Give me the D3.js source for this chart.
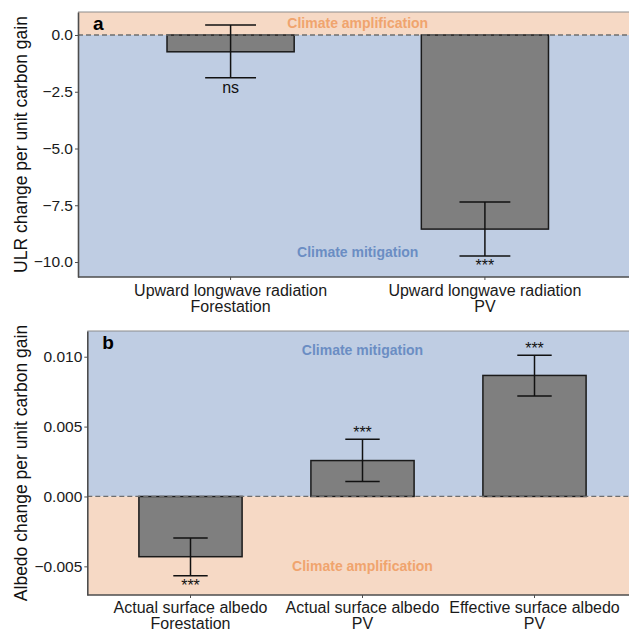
<!DOCTYPE html>
<html>
<head>
<meta charset="utf-8">
<script src="https://cdn.jsdelivr.net/npm/d3@7"></script>
<style>
  body { margin: 0; background: #fff; }
  svg { display: block; font-family: "Liberation Sans", Arial, sans-serif; }
</style>
</head>
<body>
<div id="chart"></div>
<script>
// ---- data ----
var catsA = [["Upward longwave radiation", "Forestation"], ["Upward longwave radiation", "PV"]];
var valsA = [-0.74, -8.55];
var errLoA = [-1.88, -9.74];
var errHiA = [0.44, -7.36];
var sigA = ["ns", "***"];
var ticksA = [0.0, -2.5, -5.0, -7.5, -10.0];

var catsB = [["Actual surface albedo", "Forestation"], ["Actual surface albedo", "PV"], ["Effective surface albedo", "PV"]];
var valsB = [-0.00431, 0.00257, 0.00866];
var errLoB = [-0.00567, 0.00107, 0.00719];
var errHiB = [-0.00298, 0.00409, 0.01011];
var sigB = ["***", "***", "***"];
var ticksB = [0.010, 0.005, 0.000, -0.005];

var W = 629, H = 631;
var ORANGE_BG = "#f6d9c5", BLUE_BG = "#bfcde3";
var ORANGE_TXT = "#f0a46e", BLUE_TXT = "#6b8dc3";

var svg = d3.select("#chart").append("svg")
    .attr("width", W).attr("height", H);

function drawPanel(opt) {
    var g = svg.append("g");
    // ggplot style discrete expansion: 0.6 of a step on each side
    var step = (opt.right - opt.left) / (opt.cats.length + 0.2);
    var x = d3.scalePoint()
        .domain(d3.range(opt.cats.length))
        .range([opt.left + step * 0.6, opt.right - step * 0.6]);
    var xc = function(i) { return x(i); };

    var y = d3.scaleLinear().domain(opt.domain).range([opt.bottom, opt.top]);

    // background zones
    g.append("rect")
        .attr("x", opt.left).attr("y", opt.top)
        .attr("width", opt.right - opt.left).attr("height", y(0) - opt.top)
        .attr("fill", opt.upperFill);
    g.append("rect")
        .attr("x", opt.left).attr("y", y(0))
        .attr("width", opt.right - opt.left).attr("height", opt.bottom - y(0))
        .attr("fill", opt.lowerFill);

    // zone labels
    opt.zoneLabels.forEach(function(z) {
        g.append("text")
            .attr("x", opt.left + step * z.xi)
            .attr("y", y(z.v))
            .attr("dy", "0.35em")
            .attr("text-anchor", "middle")
            .attr("font-size", 14).attr("font-weight", "bold")
            .attr("fill", z.color)
            .text(z.text);
    });

    var bw = step * opt.barWidth;
    // bars
    g.selectAll(".bar").data(opt.vals).enter().append("rect")
        .attr("x", function(d, i) { return xc(i) - bw / 2; })
        .attr("y", function(d) { return y(Math.max(0, d)); })
        .attr("width", bw)
        .attr("height", function(d) { return Math.abs(y(d) - y(0)); })
        .attr("fill", "#7f7f7f")
        .attr("stroke", "#1a1a1a").attr("stroke-width", 1.5);

    // zero line
    g.append("line")
        .attr("x1", opt.left).attr("x2", opt.right)
        .attr("y1", y(0)).attr("y2", y(0))
        .attr("stroke", "#6e6e6e").attr("stroke-width", 1.3)
        .attr("stroke-dasharray", "5,3");

    // error bars
    var cw = step * 0.2;
    opt.vals.forEach(function(d, i) {
        var cx = xc(i);
        g.append("line").attr("x1", cx).attr("x2", cx)
            .attr("y1", y(opt.lo[i])).attr("y2", y(opt.hi[i]))
            .attr("stroke", "#111").attr("stroke-width", 1.5);
        [opt.lo[i], opt.hi[i]].forEach(function(v) {
            g.append("line").attr("x1", cx - cw / 2).attr("x2", cx + cw / 2)
                .attr("y1", y(v)).attr("y2", y(v))
                .attr("stroke", "#111").attr("stroke-width", 1.5);
        });
        // significance
        var ty = d < 0 ? y(opt.lo[i]) + 15 : y(opt.hi[i]) - 1;
        g.append("text")
            .attr("x", cx).attr("y", ty)
            .attr("text-anchor", "middle")
            .attr("font-size", 16).attr("fill", "#111")
            .text(opt.sig[i]);
    });

    // top border
    g.append("line")
        .attr("x1", opt.left).attr("x2", opt.right)
        .attr("y1", opt.top).attr("y2", opt.top)
        .attr("stroke", "#8c8c8c").attr("stroke-width", 1);

    // y axis
    var ya = g.append("g")
        .attr("transform", "translate(" + opt.left + ",0)")
        .call(d3.axisLeft(y).tickValues(opt.ticks).tickFormat(d3.format(opt.fmt)).tickSize(3).tickSizeOuter(0));
    ya.select(".domain").attr("stroke", "#4d4d4d").attr("stroke-width", 1.6);
    ya.selectAll(".tick line").attr("stroke", "#4d4d4d");
    ya.selectAll(".tick text").attr("font-size", 15.5).attr("fill", "#1a1a1a")
        .attr("font-family", "Liberation Sans, Arial, sans-serif").attr("x", -5);

    // x axis
    var xa = g.append("g")
        .attr("transform", "translate(0," + opt.bottom + ")");
    xa.append("line")
        .attr("x1", opt.left).attr("x2", opt.right)
        .attr("stroke", "#4d4d4d").attr("stroke-width", 1.6);
    opt.cats.forEach(function(c, i) {
        xa.append("line").attr("x1", xc(i)).attr("x2", xc(i))
            .attr("y1", 0).attr("y2", 3).attr("stroke", "#4d4d4d");
        var t = xa.append("text")
            .attr("text-anchor", "middle")
            .attr("font-size", 16).attr("fill", "#1a1a1a");
        c.forEach(function(line, k) {
            t.append("tspan").attr("x", xc(i)).attr("y", opt.xlab1 - opt.bottom + k * 16.5).text(line);
        });
    });

    // y title
    g.append("text")
        .attr("transform", "translate(" + opt.titleX + "," + ((opt.top + opt.bottom) / 2) + ") rotate(-90)")
        .attr("text-anchor", "middle")
        .attr("font-size", 17.5).attr("fill", "#111")
        .text(opt.title);

    // panel tag
    g.append("text")
        .attr("x", opt.left + 15).attr("y", opt.top + 18)
        .attr("font-size", 19).attr("font-weight", "bold").attr("fill", "#000")
        .text(opt.tag);
}

drawPanel({
    cats: catsA, vals: valsA, lo: errLoA, hi: errHiA, sig: sigA, ticks: ticksA, fmt: ".1f",
    left: 78, right: 637.5, top: 12, bottom: 277,
    domain: [-10.66, 1.013], barWidth: 0.5,
    upperFill: ORANGE_BG, lowerFill: BLUE_BG,
    zoneLabels: [
        {text: "Climate amplification", v: 0.52, xi: 1.1, color: ORANGE_TXT},
        {text: "Climate mitigation", v: -9.55, xi: 1.1, color: BLUE_TXT}
    ],
    title: "ULR change per unit carbon gain", titleX: 27, tag: "a", xlab1: 295.5
});

drawPanel({
    cats: catsB, vals: valsB, lo: errLoB, hi: errHiB, sig: sigB, ticks: ticksB, fmt: ".3f",
    left: 87.3, right: 637.7, top: 331, bottom: 595,
    domain: [-0.00705, 0.01184], barWidth: 0.6,
    upperFill: BLUE_BG, lowerFill: ORANGE_BG,
    zoneLabels: [
        {text: "Climate mitigation", v: 0.0105, xi: 1.6, color: BLUE_TXT},
        {text: "Climate amplification", v: -0.005, xi: 1.6, color: ORANGE_TXT}
    ],
    title: "Albedo change per unit carbon gain", titleX: 27, tag: "b", xlab1: 612.5
});
</script>
</body>
</html>
